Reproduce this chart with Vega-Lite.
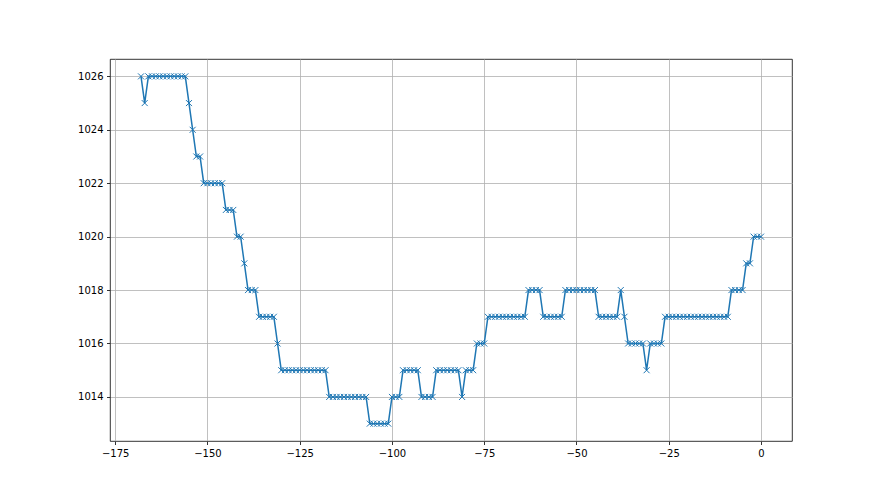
{
  "$schema": "https://vega.github.io/schema/vega-lite/v6.json",
  "autosize": {"type": "none"},
  "width": 682,
  "height": 382,
  "padding": {"left": 110, "top": 59, "right": 88, "bottom": 54},
  "background": "#ffffff",
  "config": {
    "view": {"stroke": "#000000", "strokeWidth": 0.8},
    "axis": {
      "domain": false,
      "grid": true,
      "gridColor": "#b0b0b0",
      "gridWidth": 0.8,
      "tickColor": "#000000",
      "tickSize": 3.5,
      "tickWidth": 0.8,
      "labelFont": "DejaVu Sans",
      "labelFontSize": 10,
      "labelColor": "#000000",
      "labelPadding": 3.5,
      "title": null
    }
  },
  "data": {
    "values": [
      {"t": -168, "p": 1026}, {"t": -167, "p": 1025}, {"t": -166, "p": 1026}, {"t": -165, "p": 1026},
      {"t": -164, "p": 1026}, {"t": -163, "p": 1026}, {"t": -162, "p": 1026}, {"t": -161, "p": 1026},
      {"t": -160, "p": 1026}, {"t": -159, "p": 1026}, {"t": -158, "p": 1026}, {"t": -157, "p": 1026},
      {"t": -156, "p": 1026}, {"t": -155, "p": 1025}, {"t": -154, "p": 1024}, {"t": -153, "p": 1023},
      {"t": -152, "p": 1023}, {"t": -151, "p": 1022}, {"t": -150, "p": 1022}, {"t": -149, "p": 1022},
      {"t": -148, "p": 1022}, {"t": -147, "p": 1022}, {"t": -146, "p": 1022}, {"t": -145, "p": 1021},
      {"t": -144, "p": 1021}, {"t": -143, "p": 1021}, {"t": -142, "p": 1020}, {"t": -141, "p": 1020},
      {"t": -140, "p": 1019}, {"t": -139, "p": 1018}, {"t": -138, "p": 1018}, {"t": -137, "p": 1018},
      {"t": -136, "p": 1017}, {"t": -135, "p": 1017}, {"t": -134, "p": 1017}, {"t": -133, "p": 1017},
      {"t": -132, "p": 1017}, {"t": -131, "p": 1016}, {"t": -130, "p": 1015}, {"t": -129, "p": 1015},
      {"t": -128, "p": 1015}, {"t": -127, "p": 1015}, {"t": -126, "p": 1015}, {"t": -125, "p": 1015},
      {"t": -124, "p": 1015}, {"t": -123, "p": 1015}, {"t": -122, "p": 1015}, {"t": -121, "p": 1015},
      {"t": -120, "p": 1015}, {"t": -119, "p": 1015}, {"t": -118, "p": 1015}, {"t": -117, "p": 1014},
      {"t": -116, "p": 1014}, {"t": -115, "p": 1014}, {"t": -114, "p": 1014}, {"t": -113, "p": 1014},
      {"t": -112, "p": 1014}, {"t": -111, "p": 1014}, {"t": -110, "p": 1014}, {"t": -109, "p": 1014},
      {"t": -108, "p": 1014}, {"t": -107, "p": 1014}, {"t": -106, "p": 1013}, {"t": -105, "p": 1013},
      {"t": -104, "p": 1013}, {"t": -103, "p": 1013}, {"t": -102, "p": 1013}, {"t": -101, "p": 1013},
      {"t": -100, "p": 1014}, {"t": -99, "p": 1014}, {"t": -98, "p": 1014}, {"t": -97, "p": 1015},
      {"t": -96, "p": 1015}, {"t": -95, "p": 1015}, {"t": -94, "p": 1015}, {"t": -93, "p": 1015},
      {"t": -92, "p": 1014}, {"t": -91, "p": 1014}, {"t": -90, "p": 1014}, {"t": -89, "p": 1014},
      {"t": -88, "p": 1015}, {"t": -87, "p": 1015}, {"t": -86, "p": 1015}, {"t": -85, "p": 1015},
      {"t": -84, "p": 1015}, {"t": -83, "p": 1015}, {"t": -82, "p": 1015}, {"t": -81, "p": 1014},
      {"t": -80, "p": 1015}, {"t": -79, "p": 1015}, {"t": -78, "p": 1015}, {"t": -77, "p": 1016},
      {"t": -76, "p": 1016}, {"t": -75, "p": 1016}, {"t": -74, "p": 1017}, {"t": -73, "p": 1017},
      {"t": -72, "p": 1017}, {"t": -71, "p": 1017}, {"t": -70, "p": 1017}, {"t": -69, "p": 1017},
      {"t": -68, "p": 1017}, {"t": -67, "p": 1017}, {"t": -66, "p": 1017}, {"t": -65, "p": 1017},
      {"t": -64, "p": 1017}, {"t": -63, "p": 1018}, {"t": -62, "p": 1018}, {"t": -61, "p": 1018},
      {"t": -60, "p": 1018}, {"t": -59, "p": 1017}, {"t": -58, "p": 1017}, {"t": -57, "p": 1017},
      {"t": -56, "p": 1017}, {"t": -55, "p": 1017}, {"t": -54, "p": 1017}, {"t": -53, "p": 1018},
      {"t": -52, "p": 1018}, {"t": -51, "p": 1018}, {"t": -50, "p": 1018}, {"t": -49, "p": 1018},
      {"t": -48, "p": 1018}, {"t": -47, "p": 1018}, {"t": -46, "p": 1018}, {"t": -45, "p": 1018},
      {"t": -44, "p": 1017}, {"t": -43, "p": 1017}, {"t": -42, "p": 1017}, {"t": -41, "p": 1017},
      {"t": -40, "p": 1017}, {"t": -39, "p": 1017}, {"t": -38, "p": 1018}, {"t": -37, "p": 1017},
      {"t": -36, "p": 1016}, {"t": -35, "p": 1016}, {"t": -34, "p": 1016}, {"t": -33, "p": 1016},
      {"t": -32, "p": 1016}, {"t": -31, "p": 1015}, {"t": -30, "p": 1016}, {"t": -29, "p": 1016},
      {"t": -28, "p": 1016}, {"t": -27, "p": 1016}, {"t": -26, "p": 1017}, {"t": -25, "p": 1017},
      {"t": -24, "p": 1017}, {"t": -23, "p": 1017}, {"t": -22, "p": 1017}, {"t": -21, "p": 1017},
      {"t": -20, "p": 1017}, {"t": -19, "p": 1017}, {"t": -18, "p": 1017}, {"t": -17, "p": 1017},
      {"t": -16, "p": 1017}, {"t": -15, "p": 1017}, {"t": -14, "p": 1017}, {"t": -13, "p": 1017},
      {"t": -12, "p": 1017}, {"t": -11, "p": 1017}, {"t": -10, "p": 1017}, {"t": -9, "p": 1017},
      {"t": -8, "p": 1018}, {"t": -7, "p": 1018}, {"t": -6, "p": 1018}, {"t": -5, "p": 1018},
      {"t": -4, "p": 1019}, {"t": -3, "p": 1019}, {"t": -2, "p": 1020}, {"t": -1, "p": 1020},
      {"t": 0, "p": 1020}
    ]
  },
  "encoding": {
    "x": {
      "field": "t",
      "type": "quantitative",
      "scale": {"domain": [-176.4, 8.4], "nice": false, "zero": false},
      "axis": {"values": [-175, -150, -125, -100, -75, -50, -25, 0], "format": "d"}
    },
    "y": {
      "field": "p",
      "type": "quantitative",
      "scale": {"domain": [1012.35, 1026.65], "nice": false, "zero": false},
      "axis": {"values": [1014, 1016, 1018, 1020, 1022, 1024, 1026], "format": "d"}
    }
  },
  "layer": [
    {"mark": {"type": "line", "color": "#1f77b4", "strokeWidth": 1.5}},
    {
      "mark": {
        "type": "point",
        "shape": "M-1,-1L1,1M-1,1L1,-1",
        "filled": false,
        "size": 36,
        "stroke": "#1f77b4",
        "strokeWidth": 1,
        "opacity": 1
      }
    }
  ]
}
